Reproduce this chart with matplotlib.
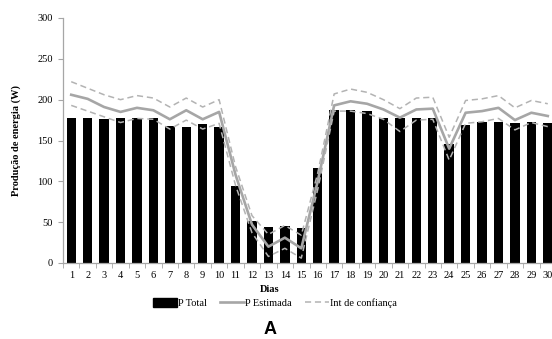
import numpy as np
import matplotlib
matplotlib.use("Agg")
import matplotlib.pyplot as plt
from matplotlib.patches import Patch
from matplotlib.lines import Line2D

plt.rcParams['font.family'] = ['Liberation Serif', 'DejaVu Serif']

# ---------------- dados ----------------
dias = list(range(1, 31))
p_total = [178, 177, 176, 177, 177, 178, 168, 167, 170, 166,
           94, 51, 44, 45, 43, 116, 187, 187, 186, 178,
           178, 178, 177, 146, 169, 173, 173, 171, 173, 171]
p_estimada = [206, 201, 191, 185, 190, 187, 176, 187, 176, 185,
              108, 47, 20, 31, 18, 100, 193, 198, 195, 188,
              178, 188, 189, 140, 184, 186, 190, 175, 184, 180]
ic_sup = [222, 214, 206, 200, 205, 202, 191, 202, 191, 200,
          118, 58, 35, 46, 34, 110, 207, 213, 209, 200,
          189, 202, 203, 154, 199, 201, 205, 190, 199, 195]
ic_inf = [193, 186, 179, 172, 177, 176, 164, 175, 164, 171,
          95, 37, 8, 18, 6, 90, 186, 186, 183, 176,
          161, 175, 176, 126, 171, 173, 177, 163, 172, 167]

cinza = '#A6A6A6'
cinza_ic = '#B3B3B3'
tracejado = (0, (4, 2.5))

# ---------------- figura ----------------
fig = plt.figure(figsize=(5.52, 3.39), dpi=100)
ax = fig.add_axes([63/552, 1 - 263/339, 493/552, 245/339])

x = np.arange(len(dias))
ax.bar(x, p_total, width=0.57, color='black', zorder=2)
ax.plot(x, p_estimada, color=cinza, lw=1.9, zorder=3)
ax.plot(x, ic_sup, color=cinza_ic, lw=1.1, ls=tracejado, zorder=3)
ax.plot(x, ic_inf, color=cinza_ic, lw=1.1, ls=tracejado, zorder=3)

ax.set_xlim(-0.5, len(dias) - 0.5)
ax.set_ylim(0, 300)
ax.set_yticks(range(0, 301, 50))
ax.set_xticks(x)
ax.set_xticklabels([str(d) for d in dias])
ax.set_xticks(np.arange(-0.5, len(dias), 1), minor=True)

for s in ['top', 'right']:
    ax.spines[s].set_visible(False)
for s in ['left', 'bottom']:
    ax.spines[s].set_color(cinza)
    ax.spines[s].set_linewidth(0.9)

ax.tick_params(axis='y', direction='out', length=3.5, color=cinza,
               labelsize=7.5, pad=4)
ax.tick_params(axis='x', which='major', length=0, labelsize=7.5, pad=6)
ax.tick_params(axis='x', which='minor', direction='out', length=3.5,
               color=cinza)

fig.text(16/552, 1 - 140/339, 'Produção de energia (W)', rotation=90,
         ha='center', va='center', fontsize=7.5, fontweight='bold')
fig.text(270/552, 1 - 289/339, 'Dias', ha='center', va='center',
         fontsize=7.5, fontweight='bold')

handles = [Patch(facecolor='black', edgecolor='black'),
           Line2D([0], [0], color=cinza, lw=1.9),
           Line2D([0], [0], color=cinza_ic, lw=1.1, ls=tracejado)]
fig.legend(handles, ['P Total', 'P Estimada', 'Int de confiança'],
           loc='center', bbox_to_anchor=(275/552, 1 - 303/339), ncol=3,
           frameon=False, fontsize=7.5, handlelength=2.3, handletextpad=0.1,
           columnspacing=1.3, handleheight=0.9)

fig.text(270/552, 1 - 330/339, 'A', ha='center', va='center',
         fontsize=13, fontweight='bold', family='Liberation Sans')

fig.savefig('out.png', dpi=100)
